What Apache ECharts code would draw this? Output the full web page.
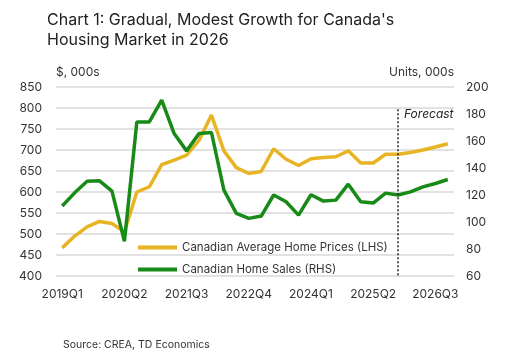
<!DOCTYPE html>
<html><head><meta charset="utf-8">
<script src="https://cdn.jsdelivr.net/npm/echarts@6/dist/echarts.min.js"></script>
<style>html,body{margin:0;padding:0;background:#fff}#c{width:509px;height:356px}</style>
</head><body><div id="c"></div>
<script>
const quarters = [];
for (let y = 2019; y <= 2026; y++) for (let q = 1; q <= 4; q++) quarters.push(y + 'Q' + q);
const prices = [467,495,517,530,525,505,600,612,665,676,688,723,783,698,658,644,649,703,678,663,679,682,684,698,669,669,690,690,694,700,707,715];
const sales = [111.8,121.6,130.2,130.5,122.9,85.6,174.1,174.1,190.2,165.5,152.7,165.5,166.3,123.6,106.4,102.7,104.4,120,115,105.1,120.2,115.5,116.2,128,115,114,121.4,120,122.3,126,128.5,131.5];
const leftTicks = {min: 400, max: 850, interval: 50};
const rightTicks = {min: 60, max: 200, interval: 20};
const forecastStart = '2025Q4';
const forecastTop = 797;

const FONT = 'Inter';
const chart = echarts.init(document.getElementById('c'), null, {renderer: 'canvas'});
chart.setOption({
  animation: false,
  textStyle: {fontFamily: FONT},
  title: {
    text: "Chart 1: Gradual, Modest Growth for Canada's\nHousing Market in 2026",
    left: 42, top: 5,
    textStyle: {fontFamily: FONT, fontSize: 16, fontWeight: 'normal', color: '#222', lineHeight: 20}
  },
  grid: {left: 56, right: 55, top: 87, bottom: 80, containLabel: false},
  legend: {
    orient: 'vertical', left: 133, top: 235, itemGap: 7,
    icon: 'rect', itemWidth: 39, itemHeight: 4, itemStyle: {borderWidth: 0},
    textStyle: {fontFamily: FONT, fontSize: 11.5, color: '#333', lineHeight: 15},
    data: ['Canadian Average Home Prices (LHS)', 'Canadian Home Sales (RHS)']
  },
  xAxis: {
    type: 'category', data: quarters, boundaryGap: true,
    axisLine: {show: false}, axisTick: {show: false},
    axisLabel: {interval: 4, margin: 12, fontFamily: FONT, fontSize: 12, color: '#333'}
  },
  yAxis: [
    {type: 'value', min: leftTicks.min, max: leftTicks.max, interval: leftTicks.interval,
     name: '$, 000s', nameLocation: 'end', nameGap: 15,
     nameTextStyle: {align: 'left', verticalAlign: 'middle', fontFamily: FONT, fontSize: 12, color: '#333'},
     axisLine: {show: false}, axisTick: {show: false},
     axisLabel: {margin: 14, fontFamily: FONT, fontSize: 12, color: '#333'},
     splitLine: {lineStyle: {color: '#d9d9d9', width: 1.5}}},
    {type: 'value', min: rightTicks.min, max: rightTicks.max, interval: rightTicks.interval,
     name: 'Units, 000s', nameLocation: 'end', nameGap: 15,
     nameTextStyle: {align: 'right', verticalAlign: 'middle', fontFamily: FONT, fontSize: 12, color: '#333'},
     axisLine: {show: false}, axisTick: {show: false},
     axisLabel: {margin: 12, fontFamily: FONT, fontSize: 12, color: '#333'},
     splitLine: {show: false}}
  ],
  series: [
    {name: 'Canadian Average Home Prices (LHS)', type: 'line', yAxisIndex: 0, data: prices,
     showSymbol: false, symbol: 'none', lineStyle: {color: '#E8B423', width: 3.5}, itemStyle: {color: '#E8B423'},
     z: 3,
     markLine: {
       silent: true, symbol: 'none', label: {show: false},
       lineStyle: {color: '#222', type: [2, 2], width: 1.5},
       data: [[{coord: [forecastStart, forecastTop]}, {coord: [forecastStart, leftTicks.min]}]]
     }},
    {name: 'Canadian Home Sales (RHS)', type: 'line', yAxisIndex: 1, data: sales,
     showSymbol: false, symbol: 'none', lineStyle: {color: '#178A17', width: 3.5}, itemStyle: {color: '#178A17'},
     z: 4}
  ],
  graphic: [
    {type: 'text', left: 404, top: 108,
     style: {text: 'Forecast', fontFamily: FONT, fontStyle: 'italic', fontSize: 12, fill: '#222'}},
    {type: 'text', left: 63, top: 339,
     style: {text: 'Source: CREA, TD Economics', fontFamily: FONT, fontSize: 10.5, fill: '#333'}}
  ]
});
</script></body></html>
